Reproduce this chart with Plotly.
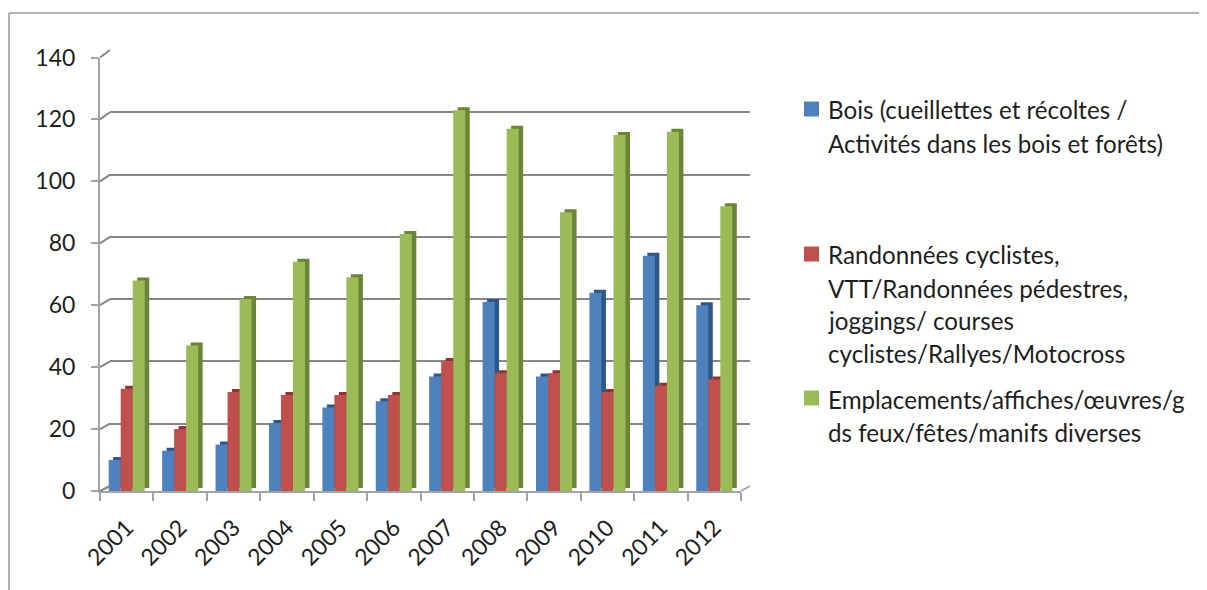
import plotly.graph_objects as go

# ---------------- data ----------------
years = ["2001", "2002", "2003", "2004", "2005", "2006",
         "2007", "2008", "2009", "2010", "2011", "2012"]
bois = [10, 13, 15, 22, 27, 29, 37, 61, 37, 64, 76, 60]
randonnees = [33, 20, 32, 31, 31, 31, 42, 38, 38, 32, 34, 36]
emplacements = [68, 47, 62, 74, 69, 83, 123, 117, 90, 115, 116, 92]

series_names = [
    "Bois (cueillettes et récoltes / Activités dans les bois et forêts)",
    "Randonnées cyclistes, VTT/Randonnées pédestres, joggings/ courses cyclistes/Rallyes/Motocross",
    "Emplacements/affiches/œuvres/gds feux/fêtes/manifs diverses",
]
legend_lines = [
    ["Bois (cueillettes et récoltes /", "Activités dans les bois et forêts)"],
    ["Randonnées cyclistes,", "VTT/Randonnées pédestres,", "joggings/ courses",
     "cyclistes/Rallyes/Motocross"],
    ["Emplacements/affiches/œuvres/g", "ds feux/fêtes/manifs diverses"],
]
y_ticks = [0, 20, 40, 60, 80, 100, 120, 140]

# ---------------- style ----------------
face_colors = ["#4F81BD", "#C0504D", "#9BBB59"]
side_colors = ["#2E5689", "#8E3432", "#6B8537"]
FONT = "Lato"
TXT = "#1e1e1e"
GRID = "#868686"
AXIS = "#a3a3a3"

W, H = 1207, 590
PAGE_OFF = 8  # default page margin around the figure


def px(x):
    return (x - PAGE_OFF) / W


def py(y):
    return 1 - (y - PAGE_OFF) / H


# pixel geometry (screen coordinates) of the pseudo-3D frame
FX0, FX1, FY0, FY1 = 100, 741, 491, 57.5      # front plane
BX0, BX1, BY0, BY1 = 110, 750, 486, 50        # back wall
DX, DY = 4.5, 3.0                             # bar depth
YMAX = 140
ncat = len(years)
xs = DX / ((FX1 - FX0) / ncat)
ys = DY * YMAX / (FY0 - FY1)

values = [bois, randonnees, emplacements]

fig = go.Figure()

# back wall (gridlines only)
fig.add_trace(go.Scatter(x=[0.5], y=[70], mode="markers", marker=dict(opacity=0),
                         hoverinfo="skip", showlegend=False, xaxis="x", yaxis="y"))

# bar depth (sides / tops)
for vals, name, c in zip(values, series_names, side_colors):
    fig.add_trace(go.Bar(x=years, y=vals, name=name, marker=dict(color=c, line=dict(width=0)),
                         showlegend=False, hoverinfo="skip", xaxis="x2", yaxis="y2"))
# bar front faces
for vals, name, c in zip(values, series_names, face_colors):
    fig.add_trace(go.Bar(x=years, y=vals, name=name, marker=dict(color=c, line=dict(width=0)),
                         showlegend=False, xaxis="x3", yaxis="y3"))

shapes = []
# connectors from the front axis to the back wall
for v in y_ticks:
    yf = FY0 - v * (FY0 - FY1) / YMAX
    yb = BY0 - v * (BY0 - BY1) / YMAX
    shapes.append(dict(type="line", xref="paper", yref="paper",
                       x0=px(FX0), y0=py(yf), x1=px(BX0), y1=py(yb),
                       line=dict(color=GRID, width=2)))
# right floor edge
shapes.append(dict(type="line", xref="paper", yref="paper",
                   x0=px(FX1), y0=py(FY0), x1=px(BX1), y1=py(BY0),
                   line=dict(color=AXIS, width=2)))
# chart border (only top and left visible)
shapes.append(dict(type="line", xref="paper", yref="paper",
                   x0=px(9), y0=py(13), x1=1, y1=py(13),
                   line=dict(color="#9a9a9a", width=1.5)))
shapes.append(dict(type="line", xref="paper", yref="paper",
                   x0=px(9), y0=py(13), x1=px(9), y1=0,
                   line=dict(color="#9a9a9a", width=1.5)))

# legend
annotations = []
legend_y = [[109, 142], [254, 287, 319, 352], [398, 431]]
for lines, ycs, c in zip(legend_lines, legend_y, face_colors):
    shapes.append(dict(type="rect", xref="paper", yref="paper",
                       x0=px(804), x1=px(819), y0=py(ycs[0] - 7.5), y1=py(ycs[0] + 7.5),
                       fillcolor=c, line=dict(width=0)))
    for ln, yc in zip(lines, ycs):
        annotations.append(dict(text=ln, xref="paper", yref="paper", x=px(826), y=py(yc + 1),
                                xanchor="left", yanchor="middle", showarrow=False,
                                font=dict(family=FONT, size=24.2, color=TXT)))

fig.update_layout(
    width=W, height=H, autosize=False,
    margin=dict(l=0, r=0, t=0, b=0, pad=0, autoexpand=False),
    paper_bgcolor="white", plot_bgcolor="rgba(0,0,0,0)",
    barmode="group", bargap=0.325, bargroupgap=0,
    showlegend=False,
    font=dict(family=FONT, color=TXT),
    xaxis=dict(domain=[px(BX0), px(BX1)], range=[0, 1], visible=False, anchor="y",
               automargin=False),
    yaxis=dict(domain=[py(BY0), py(BY1)], range=[0, YMAX], tickvals=y_ticks,
               showgrid=True, gridcolor=GRID, gridwidth=2, automargin=False,
               zeroline=False, showline=False, showticklabels=False, ticks="", anchor="x"),
    xaxis2=dict(domain=[px(FX0), px(FX1)], type="category", range=[-0.5 - xs, ncat - 0.5 - xs],
                visible=False, anchor="y2", automargin=False),
    yaxis2=dict(domain=[py(FY0), py(FY1)], range=[-ys, YMAX - ys], visible=False, anchor="x2",
                automargin=False),
    xaxis3=dict(overlaying="x2", type="category", range=[-0.5, ncat - 0.5], anchor="y3",
                showline=True, linecolor=AXIS, linewidth=2, automargin=False,
                ticks="outside", tickson="boundaries", ticklen=8, tickcolor=AXIS, tickwidth=2,
                ticklabelstandoff=12,
                tickangle=-45, tickfont=dict(family=FONT, size=23, color=TXT), showgrid=False),
    yaxis3=dict(overlaying="y2", range=[0, YMAX], tickvals=y_ticks, anchor="x3",
                showline=True, linecolor=AXIS, linewidth=2, showgrid=False, zeroline=False,
                ticks="outside", ticklen=7, tickcolor=AXIS, tickwidth=2, automargin=False,
                ticklabelstandoff=11,
                tickfont=dict(family=FONT, size=23, color=TXT)),
    shapes=shapes,
    annotations=annotations,
)

fig.write_html("out.html")
